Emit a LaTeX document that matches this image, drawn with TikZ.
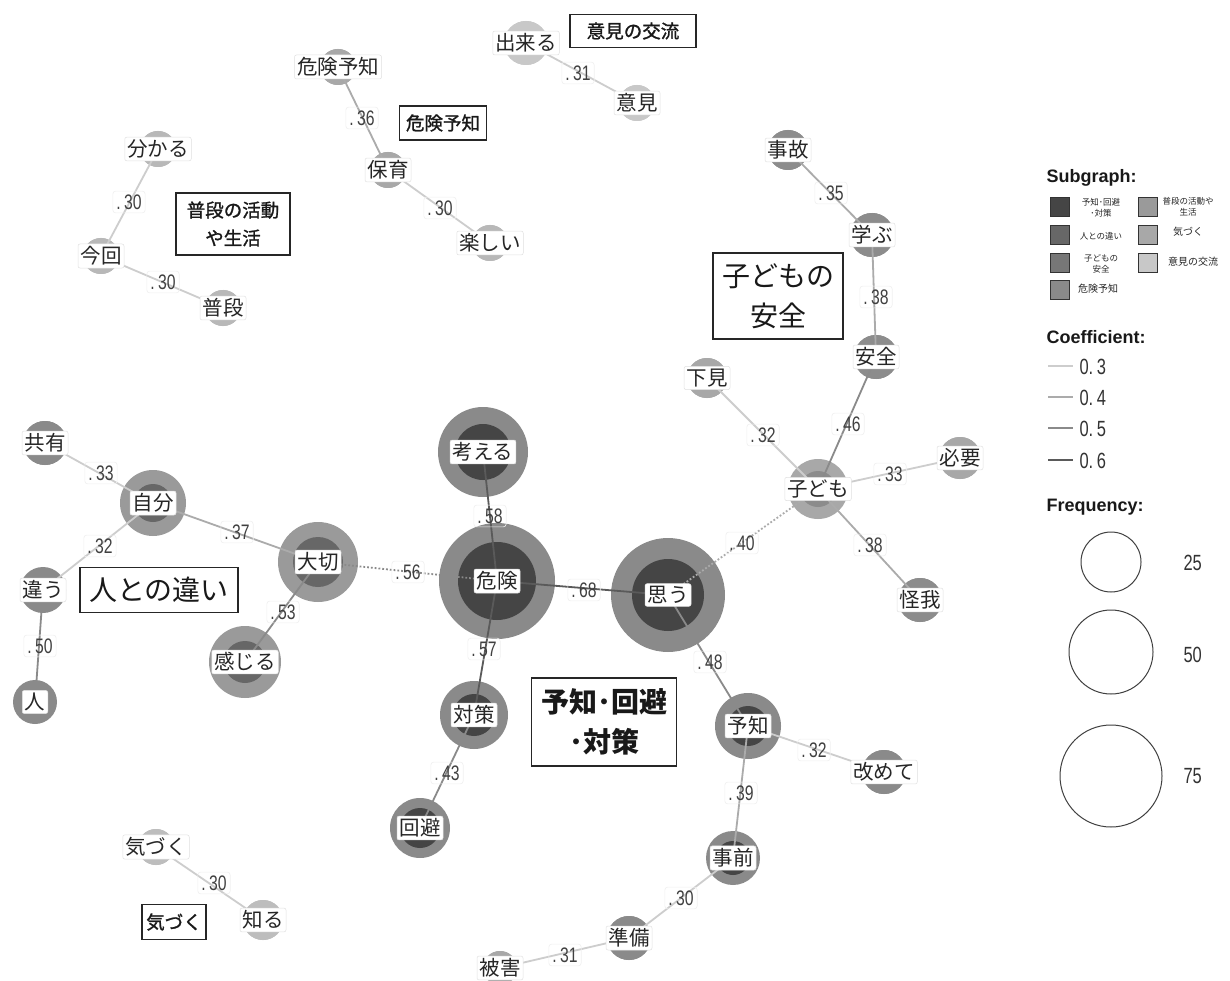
\documentclass[tikz,border=0pt]{standalone}
\usepackage{fontspec}
\setmainfont{Noto Sans CJK JP}
\newfontfamily\fb[FakeBold=1.3]{Noto Sans CJK JP}
\newfontfamily\lat{Liberation Sans}
\newfontfamily\num[FakeStretch=0.75]{Liberation Sans}
\definecolor{ga}{HTML}{454545}
\definecolor{gao}{HTML}{8A8A8A}
\definecolor{gb}{HTML}{676767}
\definecolor{gbo}{HTML}{9A9A9A}
\definecolor{gc}{HTML}{8C8C8C}
\definecolor{gco}{HTML}{A8A8A8}
\definecolor{gd}{HTML}{A8A8A8}
\definecolor{ge}{HTML}{B8B8B8}
\definecolor{gf}{HTML}{BDBDBD}
\definecolor{gg}{HTML}{C8C8C8}
\definecolor{ethree}{HTML}{CDCDCD}
\definecolor{efour}{HTML}{ABABAB}
\definecolor{efive}{HTML}{8A8A8A}
\definecolor{esix}{HTML}{5A5A5A}
\tikzset{
  ring/.style={circle, inner sep=0pt, draw=none},
  lbl/.style={fill=white, draw=black!12, line width=0.5pt, rounded corners=2pt, inner sep=2.5pt, font=\fontsize{20.5}{20.5}\selectfont, text=black!85},
  elab/.style={draw=black!6, line width=0.6pt, rounded corners=3pt, inner sep=3.5pt, font=\num\fontsize{21}{21}\selectfont, text=black!75},
  ttl/.style={draw=black!85, line width=1.6pt, fill=white, align=center, inner sep=4pt, text=black!90},
  cthree/.style={draw=ethree, line width=1.8pt},
  cfour/.style={draw=efour, line width=1.8pt},
  cfive/.style={draw=efive, line width=1.8pt},
  csix/.style={draw=esix, line width=1.8pt},
  swatch/.style={draw=black!80, line width=0.8pt, minimum size=19pt, inner sep=0pt},
  slbl/.style={font=\fontsize{8.5}{11}\selectfont, align=center, text=black!85},
  lhead/.style={font=\lat\bfseries\fontsize{18}{18}\selectfont, anchor=west, text=black!90},
  lnum/.style={font=\num\fontsize{22}{22}\selectfont, anchor=west, text=black!80},
  fcirc/.style={circle, draw=black!75, line width=1pt, inner sep=0pt},
}
% name, x, y, outer diam, inner diam, outer col, inner col
\newcommand\wn[7]{%
  \node[ring, fill=#6, minimum size=#4pt] (#1) at (#2,#3) {};
  \node[ring, fill=#7, minimum size=#5pt] (#1-in) at (#2,#3) {};}
\begin{document}
\begin{tikzpicture}[x=1pt,y=-1pt]
\fill[white] (0,0) rectangle (1230,981);
\useasboundingbox (0,0) rectangle (1230,981);

% ---------- circles ----------
\wn{kiken}{497}{581}{116}{78}{gao}{ga}
\wn{omou}{668}{595}{114}{72}{gao}{ga}
\wn{kangaeru}{483}{452}{90}{56}{gao}{ga}
\wn{taisaku}{474}{715}{68}{42}{gao}{ga}
\wn{kaihi}{420}{828}{60}{40}{gao}{ga}
\wn{yochi}{748}{726}{66}{40}{gao}{ga}
\wn{jizen}{733}{858}{54}{34}{gao}{ga}
\wn{aratamete}{884}{772}{44}{44}{gao}{gao}
\wn{junbi}{629}{938}{44}{44}{gao}{gao}
\wn{higai}{500}{968}{34}{34}{gd}{gd}

\wn{taisetsu}{318}{562}{80}{50}{gbo}{gb}
\wn{jibun}{153}{503}{66}{38}{gbo}{gb}
\wn{kanjiru}{245}{662}{72}{42}{gbo}{gb}
\wn{chigau}{43}{590}{46}{20}{gao}{gb}
\wn{hito}{35}{702}{44}{20}{gao}{gb}
\wn{kyouyu}{45}{443}{44}{44}{gao}{gao}

\wn{kodomo}{818}{489}{60}{36}{gco}{gc}
\wn{anzen}{876}{357}{44}{44}{gc}{gc}
\wn{manabu}{872}{235}{44}{44}{gc}{gc}
\wn{jiko}{788}{150}{40}{40}{gc}{gc}
\wn{shitami}{707}{378}{40}{40}{gco}{gco}
\wn{hitsuyou}{960}{458}{42}{42}{gco}{gco}
\wn{kega}{920}{600}{44}{44}{gc}{gc}

\wn{kikenyochi}{338}{67}{36}{36}{gd}{gd}
\wn{hoiku}{388}{170}{36}{36}{gd}{gd}
\wn{tanoshii}{490}{243}{36}{36}{ge}{ge}

\wn{wakaru}{158}{149}{36}{36}{ge}{ge}
\wn{konkai}{101}{256}{36}{36}{ge}{ge}
\wn{fudan}{223}{308}{36}{36}{ge}{ge}

\wn{dekiru}{526}{43}{44}{44}{gg}{gg}
\wn{iken}{637}{103}{36}{36}{gg}{gg}

\wn{kizuku}{156}{847}{36}{36}{gf}{gf}
\wn{shiru}{263}{920}{40}{40}{gf}{gf}

% ---------- edges ----------
\draw[cthree] (dekiru.center) -- (iken.center);
\draw[cfour] (kikenyochi.center) -- (hoiku.center);
\draw[cthree] (hoiku.center) -- (tanoshii.center);
\draw[cthree] (wakaru.center) -- (konkai.center);
\draw[cthree] (konkai.center) -- (fudan.center);
\draw[cfour] (jiko.center) -- (manabu.center);
\draw[cfour] (manabu.center) -- (anzen.center);
\draw[cthree] (shitami.center) -- (kodomo.center);
\draw[cfive] (anzen.center) -- (kodomo.center);
\draw[cthree] (kodomo.center) -- (hitsuyou.center);
\draw[cfour] (kodomo.center) -- (kega.center);
\draw[draw=efour, line width=1.8pt, dotted] (omou.center) -- (kodomo.center);
\draw[cthree] (kyouyu.center) -- (jibun.center);
\draw[cthree] (jibun.center) -- (chigau.center);
\draw[cfour] (jibun.center) -- (taisetsu.center);
\draw[cfive] (chigau.center) -- (hito.center);
\draw[cfive] (taisetsu.center) -- (kanjiru.center);
\draw[draw=efive, line width=1.8pt, dotted] (taisetsu.center) -- (kiken.center);
\draw[csix] (kangaeru.center) -- (kiken.center);
\draw[csix] (kiken.center) -- (omou.center);
\draw[csix] (kiken.center) -- (taisaku.center);
\draw[cfive] (taisaku.center) -- (kaihi.center);
\draw[cfive] (omou.center) -- (yochi.center);
\draw[cthree] (yochi.center) -- (aratamete.center);
\draw[cfour] (yochi.center) -- (jizen.center);
\draw[cthree] (jizen.center) -- (junbi.center);
\draw[cthree] (junbi.center) -- (higai.center);
\draw[cthree] (kizuku.center) -- (shiru.center);

% ---------- edge labels ----------
\node[elab] (e1) at (578,73) {.\,31};
\node[elab] (e2) at (362,118) {.\,36};
\node[elab] (e3) at (440,208) {.\,30};
\node[elab] (e4) at (129,202) {.\,30};
\node[elab] (e5) at (163,282) {.\,30};
\node[elab] (e6) at (831,193) {.\,35};
\node[elab] (e7) at (876,297) {.\,38};
\node[elab] (e8) at (763,435) {.\,32};
\node[elab] (e9) at (848,424) {.\,46};
\node[elab] (e10) at (890,474) {.\,33};
\node[elab] (e11) at (870,545) {.\,38};
\node[elab] (e12) at (742,543) {.\,40};
\node[elab] (e13) at (101,473) {.\,33};
\node[elab] (e14) at (100,546) {.\,32};
\node[elab] (e15) at (237,532) {.\,37};
\node[elab] (e16) at (40,646) {.\,50};
\node[elab] (e17) at (283,612) {.\,53};
\node[elab] (e18) at (408,572) {.\,56};
\node[elab] (e19) at (490,516) {.\,58};
\node[elab] (e20) at (584,590) {.\,68};
\node[elab] (e21) at (484,649) {.\,57};
\node[elab] (e22) at (447,773) {.\,43};
\node[elab] (e23) at (710,662) {.\,48};
\node[elab] (e24) at (814,750) {.\,32};
\node[elab] (e25) at (741,793) {.\,39};
\node[elab] (e26) at (681,898) {.\,30};
\node[elab] (e27) at (565,955) {.\,31};
\node[elab] (e28) at (214,883) {.\,30};

% ---------- node labels ----------
\node[lbl] (kiken-l) at (kiken) {危険};
\node[lbl] (omou-l) at (omou) {思う};
\node[lbl] (kangaeru-l) at (kangaeru) {考える};
\node[lbl] (taisaku-l) at (taisaku) {対策};
\node[lbl] (kaihi-l) at (kaihi) {回避};
\node[lbl] (yochi-l) at (yochi) {予知};
\node[lbl] (jizen-l) at (jizen) {事前};
\node[lbl] (aratamete-l) at (aratamete) {改めて};
\node[lbl] (junbi-l) at (junbi) {準備};
\node[lbl] (higai-l) at (higai) {被害};
\node[lbl] (taisetsu-l) at (taisetsu) {大切};
\node[lbl] (jibun-l) at (jibun) {自分};
\node[lbl] (kanjiru-l) at (kanjiru) {感じる};
\node[lbl] (chigau-l) at (chigau) {違う};
\node[lbl] (hito-l) at (hito) {人};
\node[lbl] (kyouyu-l) at (kyouyu) {共有};
\node[lbl] (kodomo-l) at (kodomo) {子ども};
\node[lbl] (anzen-l) at (anzen) {安全};
\node[lbl] (manabu-l) at (manabu) {学ぶ};
\node[lbl] (jiko-l) at (jiko) {事故};
\node[lbl] (shitami-l) at (shitami) {下見};
\node[lbl] (hitsuyou-l) at (hitsuyou) {必要};
\node[lbl] (kega-l) at (kega) {怪我};
\node[lbl] (kikenyochi-l) at (kikenyochi) {危険予知};
\node[lbl] (hoiku-l) at (hoiku) {保育};
\node[lbl] (tanoshii-l) at (tanoshii) {楽しい};
\node[lbl] (wakaru-l) at (wakaru) {分かる};
\node[lbl] (konkai-l) at (konkai) {今回};
\node[lbl] (fudan-l) at (fudan) {普段};
\node[lbl] (dekiru-l) at (dekiru) {出来る};
\node[lbl] (iken-l) at (iken) {意見};
\node[lbl] (kizuku-l) at (kizuku) {気づく};
\node[lbl] (shiru-l) at (shiru) {知る};

% ---------- subgraph titles ----------
\node[ttl, font=\fb\fontsize{18.5}{18.5}\selectfont, minimum width=126pt, minimum height=33pt] (t1) at (633,31) {意見の交流};
\node[ttl, font=\fb\fontsize{18.5}{18.5}\selectfont, minimum width=87pt, minimum height=34pt] (t2) at (443,123) {危険予知};
\node[ttl, font=\fb\fontsize{18.5}{28}\selectfont, minimum width=114pt, minimum height=62pt] (t3) at (233,224) {普段の活動\\や生活};
\node[ttl, font=\fontsize{28}{40}\selectfont, minimum width=130pt, minimum height=86pt] (t4) at (778,296) {子どもの\\安全};
\node[ttl, font=\fontsize{28}{28}\selectfont, minimum width=158pt, minimum height=45pt] (t5) at (159,590) {人との違い};
\node[ttl, font=\bfseries\fontsize{28}{40}\selectfont, minimum width=145pt, minimum height=88pt] (t6) at (604,722) {予知･回避\\･対策};
\node[ttl, font=\fb\fontsize{18.5}{18.5}\selectfont, minimum width=62pt, minimum height=35pt] (t7) at (174,922) {気づく};

% ---------- legend ----------
\node[lhead] (hs) at (1043,178) {Subgraph:};
\node[swatch, fill=ga] (s1) at (1060,207) {};
\node[swatch, fill=gb] (s2) at (1060,235) {};
\node[swatch, fill=gc!85!black] (s3) at (1060,263) {};
\node[swatch, fill=gao] (s4) at (1060,290) {};
\node[swatch, fill=gbo] (s5) at (1148,207) {};
\node[swatch, fill=gd] (s6) at (1148,235) {};
\node[swatch, fill=gg] (s7) at (1148,263) {};
\node[slbl] (sl1) at (1101,208) {予知･回避\\･対策};
\node[slbl] (sl2) at (1101,236) {人との違い};
\node[slbl] (sl3) at (1101,264) {子どもの\\安全};
\node[slbl, font=\fontsize{10}{11}\selectfont] (sl4) at (1098,289) {危険予知};
\node[slbl] (sl5) at (1188,207) {普段の活動や\\生活};
\node[slbl, font=\fontsize{10}{11}\selectfont] (sl6) at (1188,232) {気づく};
\node[slbl, font=\fontsize{10}{11}\selectfont] (sl7) at (1193,262) {意見の交流};

\node[lhead] (hc) at (1043,337) {Coefficient:};
\coordinate (la1) at (1048,366); \coordinate (lb1) at (1073,366);
\coordinate (la2) at (1048,397); \coordinate (lb2) at (1073,397);
\coordinate (la3) at (1048,428); \coordinate (lb3) at (1073,428);
\coordinate (la4) at (1048,460); \coordinate (lb4) at (1073,460);
\draw[cthree] (la1) -- (lb1);
\draw[cfour] (la2) -- (lb2);
\draw[cfive] (la3) -- (lb3);
\draw[csix] (la4) -- (lb4);
\node[lnum] (n1) at (1076,367) {0.\,3};
\node[lnum] (n2) at (1076,398) {0.\,4};
\node[lnum] (n3) at (1076,429) {0.\,5};
\node[lnum] (n4) at (1076,461) {0.\,6};

\node[lhead] (hf) at (1043,507) {Frequency:};
\node[fcirc, minimum size=60pt] (f1) at (1111,562) {};
\node[fcirc, minimum size=84pt] (f2) at (1111,652) {};
\node[fcirc, minimum size=102pt] (f3) at (1111,776) {};
\node[lnum] (fn1) at (1180,563) {25};
\node[lnum] (fn2) at (1180,655) {50};
\node[lnum] (fn3) at (1180,776) {75};
\end{tikzpicture}
\end{document}
